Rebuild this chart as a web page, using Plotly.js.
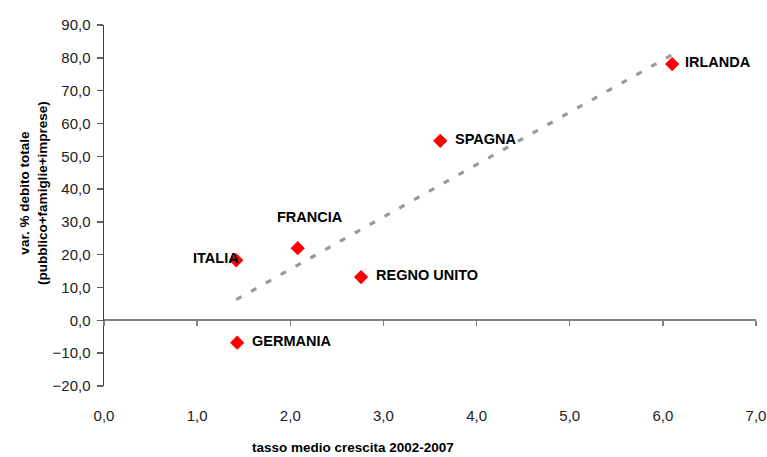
<!DOCTYPE html>
<html>
<head>
<meta charset="utf-8">
<script src="https://cdn.plot.ly/plotly-3.0.1.min.js"></script>
<style>html,body{margin:0;padding:0;background:#fff;}#chart{width:767px;height:457px;}</style>
</head>
<body>
<div id="chart"></div>
<script>
// Data
const countries = ["ITALIA", "GERMANIA", "FRANCIA", "REGNO UNITO", "SPAGNA", "IRLANDA"];
const growth = [1.42, 1.43, 2.08, 2.76, 3.61, 6.10];      // tasso medio crescita 2002-2007
const debtChange = [18.3, -6.8, 22.0, 13.2, 54.7, 78.1];  // var. % debito totale
const xTickVals = [0, 1, 2, 3, 4, 5, 6, 7];
const yTickVals = [-20, -10, 0, 10, 20, 30, 40, 50, 60, 70, 80, 90];

// Label placement (style only)
const labelStyle = {
  "ITALIA":      {xanchor: "right",  xshift: 5,  yshift: 2},
  "GERMANIA":    {xanchor: "left",   xshift: 13, yshift: 2},
  "FRANCIA":     {xanchor: "center", xshift: 12, yshift: 31},
  "REGNO UNITO": {xanchor: "left",   xshift: 13, yshift: 2},
  "SPAGNA":      {xanchor: "left",   xshift: 13, yshift: 2},
  "IRLANDA":     {xanchor: "left",   xshift: 11, yshift: 2}
};

// Linear trendline (least squares, as in the original spreadsheet chart)
const n = growth.length;
const mx = growth.reduce((a, b) => a + b, 0) / n;
const my = debtChange.reduce((a, b) => a + b, 0) / n;
let sxy = 0, sxx = 0;
for (let i = 0; i < n; i++) { sxy += (growth[i] - mx) * (debtChange[i] - my); sxx += (growth[i] - mx) ** 2; }
const slope = sxy / sxx, intercept = my - slope * mx;
const xMin = Math.min(...growth), xMax = Math.max(...growth);
const trendX = [xMin, xMax];
const trendY = trendX.map(v => intercept + slope * v);

const FONT = "Liberation Sans, Arial, sans-serif";

const traces = [
  {
    x: trendX, y: trendY, xaxis: "x2", yaxis: "y",
    mode: "lines", type: "scatter", hoverinfo: "skip",
    line: {color: "#9a9a9a", width: 3.2, dash: "6px,11px"},
    showlegend: false
  },
  {
    x: growth, y: debtChange, text: countries,
    mode: "markers", type: "scatter",
    marker: {symbol: "diamond", size: 11, color: "#ff0000", line: {width: 0}},
    showlegend: false
  }
];

const annotations = countries.map((c, i) => Object.assign({
  x: growth[i], y: debtChange[i], xref: "x", yref: "y",
  text: c, showarrow: false, yanchor: "middle",
  font: {family: FONT, size: 14.5, color: "#000", weight: "bold"}
}, labelStyle[c]));

// axis titles as annotations positioned in pixels -> convert to paper
const plotW = 767 - 104 - 11, plotH = 457 - 25 - 71;
const toPX = px => (px - 104) / plotW;
const toPY = py => 1 - (py - 25) / plotH;

annotations.push({
  xref: "paper", yref: "paper", x: toPX(353), y: toPY(447),
  text: "tasso medio crescita 2002-2007",
  showarrow: false, font: {family: FONT, size: 13.5, color: "#000", weight: "bold"},
  xanchor: "center", yanchor: "middle"
});
annotations.push({
  xref: "paper", yref: "paper", x: toPX(33), y: toPY(193),
  text: "var. % debito totale<br>(pubblico+famiglie+imprese)",
  textangle: -90, showarrow: false,
  font: {family: FONT, size: 13.5, color: "#000", weight: "bold"},
  xanchor: "center", yanchor: "middle"
});

const layout = {
  width: 767, height: 457,
  margin: {l: 104, r: 11, t: 25, b: 71},
  paper_bgcolor: "#fff", plot_bgcolor: "#fff",
  separators: ",.",
  showlegend: false,
  font: {family: FONT, color: "#222"},
  xaxis: {
    range: [0, 7], tickvals: xTickVals, tickformat: ".1f",
    showgrid: false, zeroline: false, showline: false, ticks: "",
    ticklabelstandoff: 19, tickfont: {family: FONT, size: 15, color: "#222"},
    fixedrange: true
  },
  xaxis2: {
    range: [0, 7], tickvals: xTickVals, overlaying: "x", anchor: "free",
    position: 20 / 110, side: "bottom",
    showgrid: false, zeroline: false, showline: true, linecolor: "#808080", linewidth: 2,
    ticks: "outside", ticklen: 5, tickcolor: "#808080", tickwidth: 1.5,
    showticklabels: false, fixedrange: true
  },
  yaxis: {
    range: [-20, 90], tickvals: yTickVals, tickformat: ".1f",
    showgrid: false, zeroline: false, showline: true, linecolor: "#404040", linewidth: 1.5,
    ticks: "outside", ticklen: 6, tickcolor: "#606060", tickwidth: 1.5,
    ticklabelstandoff: 3, tickfont: {family: FONT, size: 15, color: "#222"},
    fixedrange: true
  },
  annotations: annotations
};

Plotly.newPlot("chart", traces, layout, {displayModeBar: false, staticPlot: true});
</script>
</body>
</html>
